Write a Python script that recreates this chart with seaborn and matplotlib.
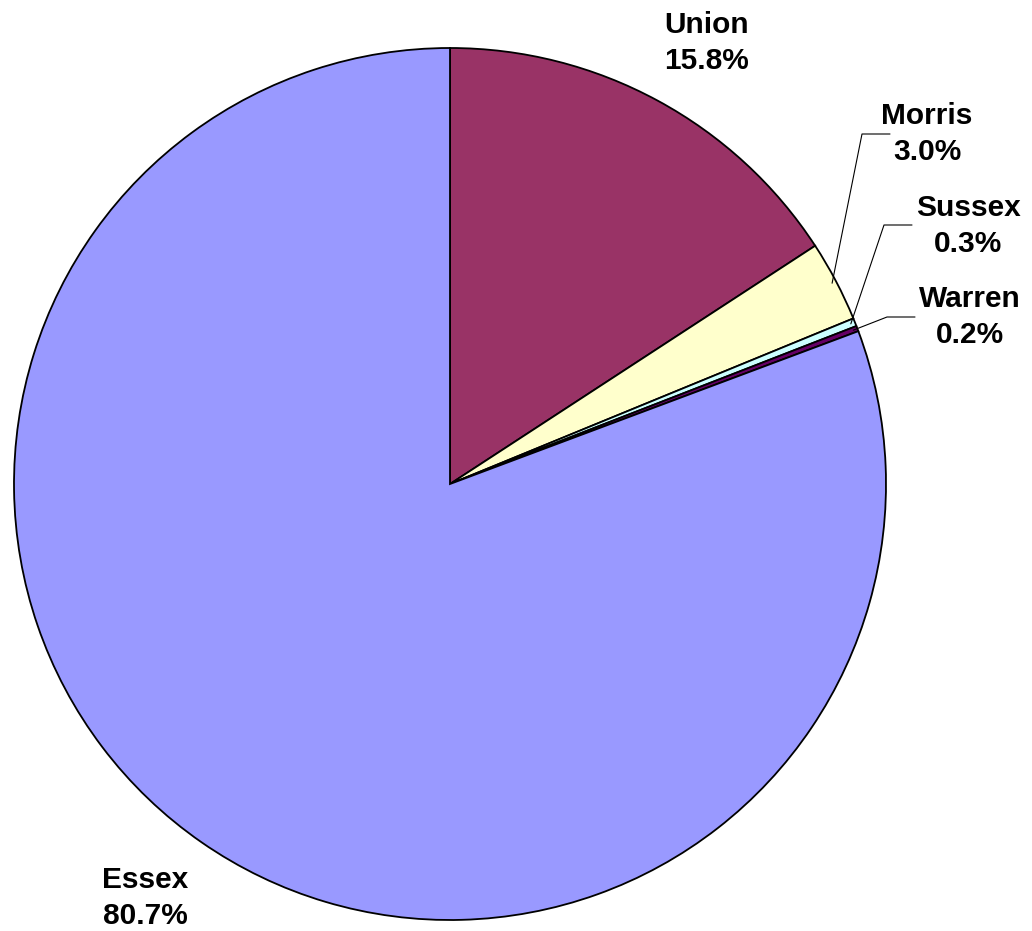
import numpy as np
import matplotlib.pyplot as plt
import seaborn as sns

counties = ["Union", "Morris", "Sussex", "Warren", "Essex"]
shares = [15.8, 3.0, 0.3, 0.2, 80.7]
colors = ["#993366", "#FFFFCC", "#CCFFFF", "#660066", "#9999FF"]

sns.set_theme(style="white")
plt.rcParams['font.family'] = ['Liberation Sans', 'DejaVu Sans']

W, H = 1032, 931
fig = plt.figure(figsize=(W / 100, H / 100), dpi=100)
ax = fig.add_axes([0, 0, 1, 1])

cx, cy, r = 450, H - 484, 436
ax.pie(shares, colors=colors, startangle=90, counterclock=False,
       center=(cx, cy), radius=r, frame=True,
       wedgeprops=dict(edgecolor="black", linewidth=1.3))
ax.set_xlim(0, W)
ax.set_ylim(0, H)
ax.set_aspect("equal")
ax.axis("off")

# label positions (pixel coords, top-left origin)
label_pos = {
    "Union": (707, 43),
    "Morris": (927, 134),
    "Sussex": (968, 226),
    "Warren": (970, 317),
    "Essex": (145, 898),
}
# leader elbows for the small slices: (elbow x, elbow y, end x)
leaders = {
    "Morris": (862, 134, 890),
    "Sussex": (884, 225, 912),
    "Warren": (887, 317, 915),
}

cum = np.cumsum([0] + shares[:-1])
for name, s, c0 in zip(counties, shares, cum):
    x, y = label_pos[name]
    ax.text(x, H - y, f"{name}\n{s:.1f}%", ha="center", va="center",
            fontsize=21.5, fontweight="bold", linespacing=1.38, color="black")
    if name in leaders:
        ang = np.deg2rad(90 - (c0 + s / 2) * 3.6)
        sx = cx + r * 0.99 * np.cos(ang)
        sy = cy + r * 0.99 * np.sin(ang)
        ex, ey, tx = leaders[name]
        ax.plot([sx, ex, tx], [sy, H - ey, H - ey], color="black", linewidth=0.8)

fig.savefig("out.png", dpi=100)
